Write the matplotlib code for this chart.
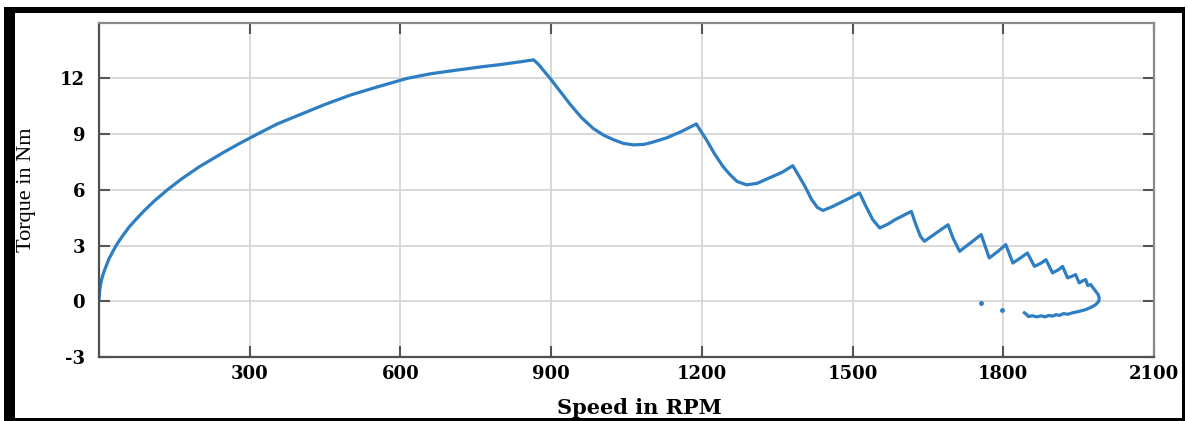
import matplotlib
matplotlib.use("Agg")
import matplotlib.pyplot as plt
from matplotlib.patches import Rectangle

# speed (RPM) and torque (Nm)
rpm = [0, 1, 3, 6, 10, 15, 20, 27, 34, 45, 60, 75, 90, 110, 136, 165, 200, 250, 280, 315,
       355, 400, 450, 500, 555, 613, 660, 713, 760, 800, 835, 865,
       875, 898, 918, 938, 960, 984, 1004, 1024, 1044, 1064, 1085, 1100, 1130, 1160, 1189,
       1197, 1209, 1225, 1242, 1255, 1270, 1289, 1310, 1335, 1360, 1381,
       1392, 1405, 1418, 1430, 1441, 1460, 1490, 1514,
       1525, 1540, 1554, 1570, 1585, 1617, 1625, 1635, 1643, 1665, 1690,
       1700, 1713, 1735, 1756, 1772, 1790, 1805, 1819, 1835, 1848,
       1862, 1875, 1885, 1898, 1910, 1918, 1928, 1937, 1944, 1951, 1958, 1964,
       1968, 1974, 1978, 1984, 1989, 1991, 1990, 1984, 1975, 1964, 1950, 1938,
       1928, 1920, 1912, 1905, 1898, 1891, 1883, 1875, 1867, 1858, 1850, 1846, 1842]
torque = [0.1, 0.5, 0.9, 1.26, 1.6, 1.95, 2.3, 2.65, 3.0, 3.45, 4.0, 4.45, 4.88, 5.4, 6.0, 6.6,
          7.25, 8.05, 8.5, 9.0, 9.55, 10.05, 10.6, 11.1, 11.55, 12.0, 12.25, 12.45, 12.62, 12.75, 12.88, 13.0,
          12.75, 12.0, 11.3, 10.6, 9.9, 9.3, 8.95, 8.7, 8.5, 8.42, 8.45, 8.55, 8.8, 9.15, 9.55,
          9.2, 8.7, 7.95, 7.26, 6.85, 6.45, 6.27, 6.35, 6.65, 6.95, 7.3,
          6.8, 6.2, 5.5, 5.05, 4.89, 5.1, 5.5, 5.83,
          5.2, 4.4, 3.95, 4.15, 4.4, 4.84, 4.2, 3.5, 3.23, 3.65, 4.12,
          3.4, 2.69, 3.15, 3.59, 2.33, 2.7, 3.05, 2.06, 2.35, 2.6,
          1.88, 2.05, 2.24, 1.53, 1.7, 1.88, 1.26, 1.35, 1.44, 0.99, 1.1, 1.17,
          0.85, 0.9, 0.75, 0.54, 0.35, 0.18, 0.0, -0.18, -0.32, -0.45, -0.55, -0.62,
          -0.70, -0.66, -0.76, -0.72, -0.80, -0.76, -0.84, -0.78, -0.84, -0.78, -0.82, -0.70, -0.62]

# stray points near 1800 RPM
blip_rpm = [1756, 1797]
blip_torque = [-0.09, -0.48]

xticks = [300, 600, 900, 1200, 1500, 1800, 2100]
yticks = [-3, 0, 3, 6, 9, 12]

W, H = 1188, 421
fig = plt.figure(figsize=(W / 100, H / 100), dpi=100)
ax = fig.add_axes([99 / W, 1 - 357 / H, (1154 - 99) / W, (357 - 22.7) / H])

ax.plot(rpm, torque, color="#2e7ec3", lw=2.3, solid_joinstyle="round")
ax.plot(blip_rpm, blip_torque, "o", color="#2e7ec3", ms=2.5)

ax.set_xlim(0, 2100)
ax.set_ylim(-3, 15)
ax.set_xticks(xticks)
ax.set_yticks(yticks)
ax.grid(True, color="#d6d6d6", lw=1.3)

tick_font = dict(family="DejaVu Serif", weight="bold", size=13)
ax.set_xticklabels([str(v) for v in xticks], **tick_font)
ax.set_yticklabels([str(v) for v in yticks], **tick_font)
ax.tick_params(direction="in", length=8, width=1.5, color="#555555",
               top=True, right=True, pad=6)
ax.tick_params(axis="y", pad=10)

for side in ["left", "bottom"]:
    ax.spines[side].set_color("#505050")
    ax.spines[side].set_linewidth(1.6)
for side in ["top", "right"]:
    ax.spines[side].set_color("#8a8a8a")
    ax.spines[side].set_linewidth(1.6)

ax.set_ylabel("Torque in Nm", family="Liberation Serif", size=16)
ax.yaxis.set_label_coords((27 - 99) / (1154 - 99), 0.5)
ax.yaxis.label.set_va("center")
ax.set_xlabel("Speed in RPM", family="DejaVu Serif", weight="bold", size=15)
ax.xaxis.set_label_coords((639 - 99) / (1154 - 99), (357 - 408) / (357 - 22.7))
ax.xaxis.label.set_va("center")

# black frame round the picture
frame = [(4, 7, 11, 414), (4, 7, 1181, 6), (1182, 7, 3, 414), (4, 418, 1181, 3)]
for x0, y0, w, h in frame:
    fig.add_artist(Rectangle((x0 / W, 1 - (y0 + h) / H), w / W, h / H,
                             transform=fig.transFigure, color="black", lw=0))

fig.savefig("out.png", dpi=100)
